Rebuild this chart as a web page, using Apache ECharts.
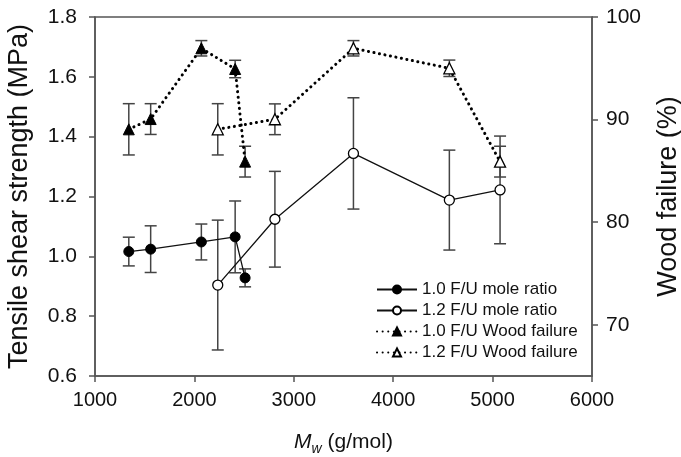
<!DOCTYPE html>
<html>
<head>
<meta charset="utf-8">
<script src="https://cdn.jsdelivr.net/npm/echarts@6/dist/echarts.min.js"></script>
<style>
html,body{margin:0;padding:0;background:#fff;}
#chart{width:681px;height:457px;}
</style>
</head>
<body>
<div id="chart"></div>
<script>
// Data
const mw10 = [1340, 1560, 2070, 2410, 2510];
const tss10 = [1.016, 1.024, 1.048, 1.065, 0.928];
const tssErr10 = [0.048, 0.078, 0.060, 0.120, 0.030];

const mw12 = [2235, 2810, 3600, 4565, 5075];
const tss12 = [0.904, 1.124, 1.344, 1.188, 1.222];
const tssErr12 = [0.217, 0.160, 0.186, 0.167, 0.180];

const wf10 = [89.05, 90.05, 96.95, 94.93, 85.9];
const wfErr10 = [2.5, 1.5, 0.75, 0.85, 1.5];
const wf12 = [89.05, 90.03, 96.95, 95.0, 85.9];
const wfErr12 = [2.5, 1.5, 0.75, 0.8, 1.5];

const xTicks = [1000, 2000, 3000, 4000, 5000, 6000];
const leftTicks = [0.6, 0.8, 1.0, 1.2, 1.4, 1.6, 1.8];
const rightTicks = [70, 80, 90, 100];

const seriesNames = ['1.0 F/U mole ratio', '1.2 F/U mole ratio', '1.0 F/U Wood failure', '1.2 F/U Wood failure'];

const FONT = '"Liberation Sans", Arial, sans-serif';
const AX = '#555';

function pts(xs, ys) { return xs.map((x, i) => [x, ys[i]]); }
function errPts(xs, ys, es) { return xs.map((x, i) => [x, ys[i], es[i]]); }

function errRender(params, api) {
  const x = api.value(0), y = api.value(1), e = api.value(2);
  const t = api.coord([x, y + e]);
  const b = api.coord([x, y - e]);
  const hw = 6;
  const st = { stroke: '#444', lineWidth: 1.5 };
  return {
    type: 'group',
    children: [
      { type: 'line', shape: { x1: t[0], y1: t[1], x2: b[0], y2: b[1] }, style: st },
      { type: 'line', shape: { x1: t[0] - hw, y1: t[1], x2: t[0] + hw, y2: t[1] }, style: st },
      { type: 'line', shape: { x1: b[0] - hw, y1: b[1], x2: b[0] + hw, y2: b[1] }, style: st }
    ]
  };
}

const chart = echarts.init(document.getElementById('chart'), null, { renderer: 'canvas' });

const dotted = { color: '#000', width: 3, type: [0.1, 5.5], cap: 'round' };

chart.setOption({
  animation: false,
  backgroundColor: '#fff',
  textStyle: { fontFamily: FONT, color: '#111' },
  grid: {
    left: 95, right: 89, top: 17, bottom: 81,
    outerBoundsMode: 'none', containLabel: false,
    show: true, borderColor: AX, borderWidth: 1.5, backgroundColor: 'transparent'
  },
  legend: {
    data: seriesNames,
    orient: 'vertical',
    left: 371,
    top: 276,
    itemWidth: 40,
    itemHeight: 10,
    itemGap: 4,
    textStyle: { fontFamily: FONT, fontSize: 17, color: '#111' },
    inactiveColor: '#000'
  },
  xAxis: {
    type: 'value',
    min: 1000,
    max: 6000,
    name: '{i|M}{s|w}{n| (g/mol)}',
    nameLocation: 'middle',
    nameGap: 52,
    nameTextStyle: {
      fontFamily: FONT, color: '#111',
      rich: {
        i: { fontFamily: FONT, fontSize: 21, fontStyle: 'italic', lineHeight: 28, color: '#111' },
        s: { fontFamily: FONT, fontSize: 14, fontStyle: 'italic', lineHeight: 14, verticalAlign: 'bottom', color: '#111' },
        n: { fontFamily: FONT, fontSize: 21, lineHeight: 28, color: '#111' }
      }
    },
    axisLine: { show: true, lineStyle: { color: AX, width: 1.5 } },
    axisTick: { show: true, inside: false, length: 6, lineStyle: { color: AX, width: 1.5 }, customValues: xTicks },
    axisLabel: { fontFamily: FONT, fontSize: 20, color: '#111', margin: 14, customValues: xTicks, formatter: v => String(Math.round(v)) },
    splitLine: { show: false }
  },
  yAxis: [
    {
      type: 'value',
      min: 0.6,
      max: 1.8,
      position: 'left',
      name: 'Tensile shear strength (MPa)',
      nameLocation: 'middle',
      nameRotate: 90,
      nameGap: 62,
      nameTextStyle: { fontFamily: FONT, fontSize: 27, color: '#111' },
      axisLine: { show: true, lineStyle: { color: AX, width: 1.5 } },
      axisTick: { show: true, inside: false, length: 6, lineStyle: { color: AX, width: 1.5 }, customValues: leftTicks },
      axisLabel: { fontFamily: FONT, fontSize: 21, color: '#111', margin: 18, customValues: leftTicks, formatter: v => Number(v).toFixed(1) },
      splitLine: { show: false }
    },
    {
      type: 'value',
      min: 65,
      max: 100,
      position: 'right',
      name: 'Wood failure (%)',
      nameLocation: 'middle',
      nameRotate: 90,
      nameGap: 63,
      nameTextStyle: { fontFamily: FONT, fontSize: 27, color: '#111' },
      axisLine: { show: true, lineStyle: { color: AX, width: 1.5 } },
      axisTick: { show: true, inside: false, length: 6, lineStyle: { color: AX, width: 1.5 }, customValues: rightTicks },
      axisLabel: { fontFamily: FONT, fontSize: 21, color: '#111', margin: 14, customValues: rightTicks },
      splitLine: { show: false }
    }
  ],
  series: [
    { type: 'custom', name: 'err10', yAxisIndex: 0, z: 1, renderItem: errRender, encode: { x: 0, y: 1 }, data: errPts(mw10, tss10, tssErr10), silent: true },
    { type: 'custom', name: 'err12', yAxisIndex: 0, z: 1, renderItem: errRender, encode: { x: 0, y: 1 }, data: errPts(mw12, tss12, tssErr12), silent: true },
    { type: 'custom', name: 'errwf10', yAxisIndex: 1, z: 1, renderItem: errRender, encode: { x: 0, y: 1 }, data: errPts(mw10, wf10, wfErr10), silent: true },
    { type: 'custom', name: 'errwf12', yAxisIndex: 1, z: 1, renderItem: errRender, encode: { x: 0, y: 1 }, data: errPts(mw12, wf12, wfErr12), silent: true },
    {
      type: 'line', name: seriesNames[0], yAxisIndex: 0, z: 5,
      data: pts(mw10, tss10),
      symbol: 'circle', symbolSize: 10,
      itemStyle: { color: '#000', borderColor: '#000', borderWidth: 1 },
      lineStyle: { color: '#111', width: 1.3 }
    },
    {
      type: 'line', name: seriesNames[1], yAxisIndex: 0, z: 5,
      data: pts(mw12, tss12),
      symbol: 'circle', symbolSize: 10,
      itemStyle: { color: '#fff', borderColor: '#000', borderWidth: 1.3 },
      lineStyle: { color: '#111', width: 1.3 }
    },
    {
      type: 'line', name: seriesNames[2], yAxisIndex: 1, z: 5,
      data: pts(mw10, wf10),
      symbol: 'triangle', symbolSize: 11,
      itemStyle: { color: '#000', borderColor: '#000', borderWidth: 1 },
      lineStyle: dotted
    },
    {
      type: 'line', name: seriesNames[3], yAxisIndex: 1, z: 5,
      data: pts(mw12, wf12),
      symbol: 'triangle', symbolSize: 11,
      itemStyle: { color: '#fff', borderColor: '#000', borderWidth: 1.3 },
      lineStyle: dotted
    }
  ]
});
</script>
</body>
</html>
